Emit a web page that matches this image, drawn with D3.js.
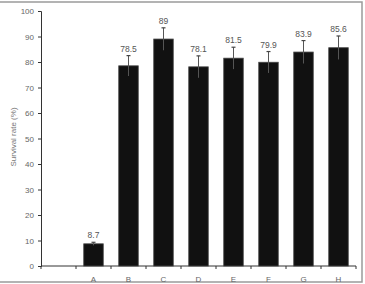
<!DOCTYPE html>
<html><head><meta charset="utf-8">
<script src="https://cdn.jsdelivr.net/npm/d3@7"></script>
<style>body{margin:0;background:#fff}svg{display:block}</style>
</head><body>
<script>
const categories = ["", "A", "B", "C", "D", "E", "F", "G", "H"];
const values = [null, 8.7, 78.5, 89, 78.1, 81.5, 79.9, 83.9, 85.6];
const errors = [null, 0.6, 4.0, 4.4, 4.3, 4.3, 4.2, 4.5, 4.6];
const labels = ["", "8.7", "78.5", "89", "78.1", "81.5", "79.9", "83.9", "85.6"];
const yTicks = [0,10,20,30,40,50,60,70,80,90,100];

const W = 365, H = 284;
const FONT = "Liberation Sans, Arial, sans-serif";
const svg = d3.select("body").append("svg").attr("width", W).attr("height", H);
svg.append("rect").attr("x", -1).attr("y", 2).attr("width", 363).attr("height", 280)
  .attr("fill", "none").attr("stroke", "#9a9a9a").attr("stroke-width", 1.5);

const x = d3.scaleBand().domain(categories.map((c,i)=>i)).range([41, 356]).paddingInner(0).paddingOuter(0);
const y = d3.scaleLinear().domain([0, 100]).range([266, 11]);

const yAxis = svg.append("g").attr("transform", "translate(41,0)")
  .call(d3.axisLeft(y).tickValues(yTicks).tickSize(3).tickPadding(4));
yAxis.select(".domain").attr("stroke", "#333");
yAxis.selectAll(".tick line").attr("stroke", "#333");
yAxis.selectAll("text").attr("fill", "#666").style("font-family", FONT).style("font-size", "8px");

// x axis with ticks at band boundaries
const xAxisG = svg.append("g").attr("transform", "translate(0,266)");
xAxisG.append("line").attr("x1", 41).attr("x2", 356).attr("stroke", "#333");
const bounds = categories.map((c,i)=>x(i)).concat([x(categories.length-1)+x.bandwidth()]);
xAxisG.selectAll("line.t").data(bounds).join("line").attr("class","t")
  .attr("x1", d=>d).attr("x2", d=>d).attr("y1", 0).attr("y2", 3).attr("stroke", "#333");
xAxisG.selectAll("text").data(categories).join("text")
  .attr("x", (d,i)=>x(i)+x.bandwidth()/2).attr("y", 16).attr("text-anchor","middle")
  .attr("fill", "#666").style("font-family", FONT).style("font-size", "8px")
  .text(d=>d);

const bw = 19.5;
const data = categories.map((c,i)=>({i, v: values[i], e: errors[i], l: labels[i]})).filter(d=>d.v!==null);
const g = svg.append("g");
g.selectAll("rect.bar").data(data).join("rect").attr("class","bar")
  .attr("x", d=>x(d.i)+x.bandwidth()/2-bw/2).attr("width", bw)
  .attr("y", d=>y(d.v)).attr("height", d=>y(0)-y(d.v))
  .attr("fill", "#111").attr("stroke", "#444").attr("stroke-width", 0.8);
// error bars
g.selectAll("line.eb").data(data).join("line").attr("class","eb")
  .attr("x1", d=>x(d.i)+x.bandwidth()/2).attr("x2", d=>x(d.i)+x.bandwidth()/2)
  .attr("y1", d=>y(d.v-d.e)).attr("y2", d=>y(d.v+d.e)).attr("stroke", "#555").attr("stroke-width", 1);
g.selectAll("line.cap").data(data).join("line").attr("class","cap")
  .attr("x1", d=>x(d.i)+x.bandwidth()/2-2).attr("x2", d=>x(d.i)+x.bandwidth()/2+2)
  .attr("y1", d=>y(d.v+d.e)).attr("y2", d=>y(d.v+d.e)).attr("stroke", "#444").attr("stroke-width", 1.2);
g.selectAll("text.val").data(data).join("text").attr("class","val")
  .attr("x", d=>x(d.i)+x.bandwidth()/2).attr("y", d=>y(d.v+d.e)-4).attr("text-anchor","middle")
  .attr("fill", "#555").style("font-family", FONT).style("font-size", "8.5px")
  .text(d=>d.l);

svg.append("text").attr("transform", "translate(16,137) rotate(-90)").attr("text-anchor","middle")
  .attr("fill", "#777").style("font-family", FONT).style("font-size", "8px")
  .text("Survival rate (%)");
</script>
</body></html>
